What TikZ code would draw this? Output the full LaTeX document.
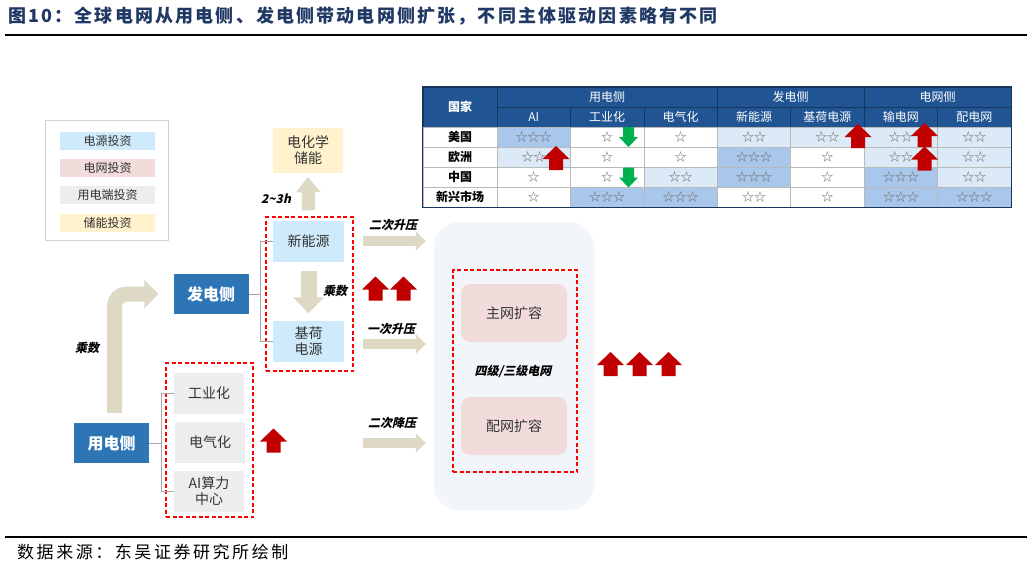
\documentclass[tikz,border=0pt]{standalone}
\usepackage{fontspec}
\setmainfont{Noto Sans CJK SC}
\newfontfamily\slfont[FakeSlant=0.22]{Noto Sans CJK SC}
\usetikzlibrary{arrows.meta,calc}

\definecolor{titleblue}{HTML}{203864}
\definecolor{nodeblue}{HTML}{2E75B6}
\definecolor{srcblue}{HTML}{CFEBFB}
\definecolor{gridpink}{HTML}{F2DCDB}
\definecolor{usegray}{HTML}{EDEDED}
\definecolor{storyellow}{HTML}{FFF2CC}
\definecolor{gridbgc}{HTML}{F2F5FA}
\definecolor{arrowtan}{HTML}{DDD9C4}
\definecolor{arrowred}{HTML}{C00000}
\definecolor{arrowgreen}{HTML}{00B050}
\definecolor{dashred}{HTML}{FF0000}
\definecolor{headblue}{HTML}{215493}
\definecolor{headline}{HTML}{16365C}
\definecolor{cellA}{HTML}{FFFFFF}
\definecolor{cellB}{HTML}{DCE9F7}
\definecolor{cellC}{HTML}{A9C7EA}
\definecolor{startxt}{HTML}{6A6A6A}

\newcommand\starsN[1]{\ifcase#1\or ☆\or ☆☆\or ☆☆☆\fi}

\tikzset{
  box/.style={inner sep=0pt, align=center, text=black!80, font=\fontsize{14}{16}\selectfont},
  sidebox/.style={fill=nodeblue, text=white, minimum width=75, minimum height=40, inner sep=0pt, font=\fontsize{16}{18}\selectfont\bfseries},
  redbox/.style={draw=dashred, dash pattern=on 4pt off 2.5pt, line width=1.3pt, inner sep=0pt},
  tag/.style={font=\slfont\bfseries\fontsize{12}{14}\selectfont, inner sep=0pt},
  flowarrow/.style={draw=arrowtan, line width=10pt, -{Triangle[length=10pt,width=19pt]}},
  link/.style={draw=gray!70, line width=0.8pt},
  legitem/.style={minimum width=95, minimum height=18, inner sep=0pt, font=\fontsize{12}{14}\selectfont, text=black!80},
  hcell/.style={fill=headblue, draw=headline, line width=0.6pt, text=white, inner sep=0pt, font=\fontsize{12}{14}\selectfont},
  dcell/.style={draw=gray!55, line width=0.5pt, inner sep=0pt, minimum width=73.43, minimum height=20, text=startxt, font=\fontsize{12}{14}\selectfont},
  pics/uparr/.style={code={\fill[arrowred] (0,-12) -- (13.5,1) -- (7,1) -- (7,12) -- (-7,12) -- (-7,1) -- (-13.5,1) -- cycle;}},
  pics/downarr/.style={code={\fill[arrowgreen] (0,10) -- (9.5,0) -- (5.5,0) -- (5.5,-10) -- (-5.5,-10) -- (-5.5,0) -- (-9.5,0) -- cycle;}},
}

\begin{document}
\begin{tikzpicture}[x=1pt, y=-1pt]
    \useasboundingbox[fill=white] (0,0) rectangle (1032,568);

    % 1. 标题、上下横线与资料来源
    \node[anchor=west, inner sep=0pt, text=titleblue, font=\fontsize{18}{20}\selectfont\bfseries\addfontfeature{LetterSpace=12}] (title) at (8,16) {图10：全球电网从用电侧、发电侧带动电网侧扩张，不同主体驱动因素略有不同};
    \draw[line width=2.5pt] (5,35) -- (1027,35);
    \draw[line width=2.2pt] (5,537) -- (1027,537);
    \node[anchor=west, inner sep=0pt, font=\fontsize{17}{19}\selectfont\addfontfeature{LetterSpace=15}] (source) at (17,552) {数据来源：东吴证券研究所绘制};

    % 2. 图例
    \node[draw=gray!35, line width=0.8pt, minimum width=123, minimum height=120] (legend) at (106.5,180) {};
    \node[legitem, fill=srcblue] (leg1) at (107.5,141) {电源投资};
    \node[legitem, fill=gridpink] (leg2) at (107.5,168) {电网投资};
    \node[legitem, fill=usegray] (leg3) at (107.5,195) {用电端投资};
    \node[legitem, fill=storyellow] (leg4) at (107.5,222.5) {储能投资};

    % 3. 电网侧底板与红色虚线框
    \node[fill=gridbgc, rounded corners=25pt, minimum width=160, minimum height=288] (gridbg) at (514,366) {};
    \node[redbox, minimum width=87, minimum height=154] (xinbox) at (309.5,294) {};
    \node[redbox, minimum width=87, minimum height=154] (yongbox) at (209.5,440) {};
    \node[redbox, minimum width=124, minimum height=202] (wangbox) at (515,371) {};

    % 4. 发电侧、用电侧及各自分项
    \node[sidebox] (fadian) at (211,294) {发电侧};
    \node[sidebox] (yongdian) at (111.5,443) {用电侧};
    \node[box, fill=storyellow, minimum width=70, minimum height=45] (chuneng) at (308,150.5) {电化学\\储能};
    \node[box, fill=srcblue, minimum width=71, minimum height=41] (xinneng) at (308.5,241) {新能源};
    \node[box, fill=srcblue, minimum width=71, minimum height=41] (jihe) at (308.5,341) {基荷\\电源};
    \node[box, fill=usegray, minimum width=70, minimum height=41] (gongye) at (209,393) {工业化};
    \node[box, fill=usegray, minimum width=70, minimum height=41] (dianqi) at (210,442) {电气化};
    \node[box, fill=usegray, minimum width=70, minimum height=41] (suanli) at (209,491.5) {AI算力\\中心};
    \node[box, fill=gridpink, rounded corners=9pt, minimum width=106, minimum height=58] (zhuwang) at (514,313) {主网扩容};
    \node[box, fill=gridpink, rounded corners=9pt, minimum width=106, minimum height=58] (peiwang) at (514,426) {配网扩容};

    % 5. 括号连线
    \draw[link] (fadian.east) -- ++(12,0) |- (xinneng.west);
    \draw[link] (fadian.east) -- ++(12,0) |- (jihe.west);
    \draw[link] (yongdian.east) -- ++(12,0) |- (gongye.west);
    \draw[link] (yongdian.east) -- ++(12,0) |- (suanli.west);

    % 6. 米色箭头及其标签
    \draw[flowarrow, line width=15pt, rounded corners=12pt, -{Triangle[length=14pt,width=28pt]}]
        ([xshift=3pt,yshift=10pt]yongdian.north) |- ([xshift=-15pt]fadian.west);
    \draw[flowarrow, line width=13pt, -{Triangle[length=15pt,width=24pt]}] ([yshift=10pt]xinneng.north) -- ([yshift=-4pt]chuneng.south);
    \draw[flowarrow, line width=16pt, -{Triangle[length=16pt,width=30pt]}] ([yshift=-9pt]xinneng.south) -- ([yshift=7pt]jihe.north);
    \draw[flowarrow] ($(xinneng.east)+(19,0)$) -- ($(xinneng.east -| gridbg.west)+(-8,0)$);
    \draw[flowarrow] ($(jihe.east)+(19,3)$) -- ($(jihe.east -| gridbg.west)+(-8,3)$);
    \draw[flowarrow] ($(dianqi.east -| xinneng.east)+(19,1)$) -- ($(dianqi.east -| gridbg.west)+(-8,1)$);
    \node[tag] (lab1) at (87,348) {乘数};
    \node[tag] (lab2) at (276,199) {2\textasciitilde3h};
    \node[tag] (lab3) at (335,291) {乘数};
    \node[tag] (lab4) at (393,225) {二次升压};
    \node[tag] (lab5) at (391,329) {一次升压};
    \node[tag] (lab6) at (392,423) {二次降压};
    \node[tag] (lab7) at (513,371) {四级/三级电网};

    % 7. 红色上升箭头
    \pic at (375.5,288.5) {uparr};
    \pic at (403.5,288.5) {uparr};
    \pic at (273.5,440.5) {uparr};
    \foreach \x in {610.5,639.5,668.5}
        \pic at (\x,364) {uparr};

    % 8. 右上角表格
    \node[hcell, minimum width=74, minimum height=40, font=\bfseries\fontsize{12}{14}\selectfont] (guojia) at (460,107) {国家};
    \node[hcell, minimum width=220.3, minimum height=20] (hyong) at (607.15,97) {用电侧};
    \node[hcell, minimum width=146.86, minimum height=20] (hfa) at (790.7,97) {发电侧};
    \node[hcell, minimum width=146.86, minimum height=20] (hwang) at (937.57,97) {电网侧};
    \foreach \t [count=\i] in {AI,工业化,电气化,新能源,基荷电源,输电网,配电网}
        \node[hcell, minimum width=73.43, minimum height=20] (sub\i) at ({497+73.43*(\i-0.5)},117) {\t};
    \foreach \t [count=\r] in {美国,欧洲,中国,新兴市场}
        \node[dcell, minimum width=74, text=black, font=\bfseries\fontsize{12}{14}\selectfont] (row\r) at (460,{117+20*\r}) {\t};
    \foreach \f/\n [count=\i] in {C/3,A/1,A/1,B/2,B/2,B/2,B/2}
        \node[dcell, fill=cell\f] (us\i) at ({497+73.43*(\i-0.5)},137) {\starsN{\n}};
    \foreach \f/\n [count=\i] in {B/2,A/1,A/1,C/3,A/1,B/2,B/2}
        \node[dcell, fill=cell\f] (eu\i) at ({497+73.43*(\i-0.5)},157) {\starsN{\n}};
    \foreach \f/\n [count=\i] in {A/1,A/1,B/2,C/3,A/1,C/3,B/2}
        \node[dcell, fill=cell\f] (cn\i) at ({497+73.43*(\i-0.5)},177) {\starsN{\n}};
    \foreach \f/\n [count=\i] in {A/1,C/3,C/3,A/2,A/1,C/3,C/3}
        \node[dcell, fill=cell\f] (em\i) at ({497+73.43*(\i-0.5)},197) {\starsN{\n}};
    \draw[headline, line width=1pt] (guojia.north west) rectangle (em7.south east);

    % 9. 表格中的涨跌箭头
    \pic at (556,158) {uparr};
    \pic at (858,136) {uparr};
    \pic at (924.5,135) {uparr};
    \pic at (924.5,158.5) {uparr};
    \pic at (628.5,137) {downarr};
    \pic at (628.5,177.5) {downarr};

\end{tikzpicture}
\end{document}
